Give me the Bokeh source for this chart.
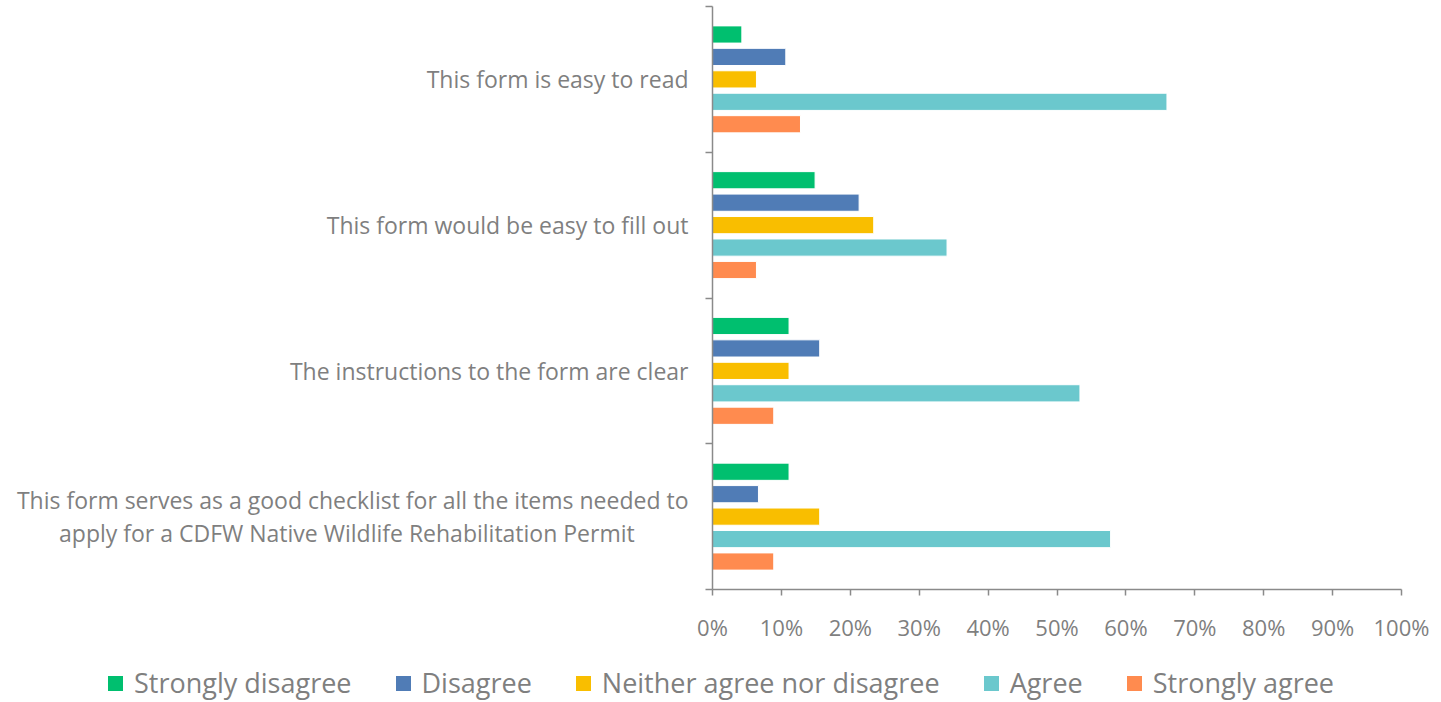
from bokeh.plotting import figure
from bokeh.models import FixedTicker, NumeralTickFormatter, Range1d, Div
from bokeh.layouts import column
from bokeh.embed import file_html
from bokeh.resources import INLINE

NB = "\u00a0"
questions = [
    "This form is easy to read",
    "This form would be easy to fill out",
    "The instructions to the form are clear",
    "This form serves as a good checklist for all the items needed to\napply for a CDFW Native Wildlife Rehabilitation Permit" + NB * 9,
]
series = ["Strongly disagree", "Disagree", "Neither agree nor disagree", "Agree", "Strongly agree"]
colors = ["#00bf6f", "#507cb6", "#f9be00", "#6bc8cd", "#ff8b4f"]

strongly_disagree = [0.0426, 0.1489, 0.1111, 0.1111]
disagree = [0.1064, 0.2128, 0.1556, 0.0667]
neither = [0.0638, 0.2340, 0.1111, 0.1556]
agree = [0.6596, 0.3404, 0.5333, 0.5778]
strongly_agree = [0.1277, 0.0638, 0.0889, 0.0889]
values = [strongly_disagree, disagree, neither, agree, strongly_agree]

x_ticks = [0, 0.1, 0.2, 0.3, 0.4, 0.5, 0.6, 0.7, 0.8, 0.9, 1.0]

n = len(questions)
centers = [n - i - 0.5 for i in range(n)]
pitch = 0.154
bar_h = 0.118

TEXT = "#7f7f7f"
AXIS = "#8a8a8a"
FONT = "Open Sans"

p = figure(frame_width=689, frame_height=583, output_backend="svg", toolbar_location=None,
           x_range=Range1d(0, 1), y_range=Range1d(0, n),
           min_border_left=712, min_border_right=32, min_border_top=6, min_border_bottom=0)
p.outline_line_color = None
p.xgrid.grid_line_color = None
p.ygrid.grid_line_color = None
p.background_fill_color = "white"

for j, (name, col, vals) in enumerate(zip(series, colors, values)):
    ys = [c + (2 - j) * pitch for c in centers]
    p.hbar(y=ys, right=vals, left=0, height=bar_h, fill_color=col,
           line_color="white", line_width=1, legend_label=name)
p.legend.visible = False

# x axis
p.xaxis.ticker = FixedTicker(ticks=x_ticks)
p.xaxis.formatter = NumeralTickFormatter(format="0%")
p.xaxis.axis_line_color = AXIS
p.xaxis.axis_line_width = 1.5
p.xaxis.major_tick_line_color = AXIS
p.xaxis.major_tick_line_width = 1.5
p.xaxis.major_tick_out = 6
p.xaxis.major_tick_in = 0
p.xaxis.minor_tick_line_color = None
p.xaxis.major_label_text_color = TEXT
p.xaxis.major_label_text_font = FONT
p.xaxis.major_label_text_font_size = "22px"
p.xaxis.major_label_standoff = 16

# y axis
p.yaxis.ticker = FixedTicker(ticks=centers, minor_ticks=list(range(n + 1)))
p.yaxis.major_label_overrides = {c: q for c, q in zip(centers, questions)}
p.yaxis.axis_line_color = AXIS
p.yaxis.axis_line_width = 1.5
p.yaxis.major_tick_line_color = None
p.yaxis.minor_tick_line_color = AXIS
p.yaxis.minor_tick_line_width = 1.5
p.yaxis.minor_tick_out = 7
p.yaxis.minor_tick_in = 0
p.yaxis.major_label_text_color = TEXT
p.yaxis.major_label_text_font = FONT
p.yaxis.major_label_text_font_size = "23px"
p.yaxis.major_label_text_line_height = 1.05
p.yaxis.major_label_standoff = 17

# legend row below the chart (built from the series names and colours)
parts = []
for name, col in zip(series, colors):
    parts.append(
        '<span style="display:inline-block;margin-right:44px;">'
        f'<span style="display:inline-block;width:15px;height:15px;background:{col};'
        'margin-right:11px;vertical-align:middle;position:relative;top:-2px;"></span>'
        f'{name}</span>'
    )
html = (f'<div style="font-family:\'{FONT}\';font-size:27px;color:{TEXT};white-space:nowrap;'
        'padding-left:103px;line-height:36px;margin-top:16px;">' + "".join(parts) + '</div>')
legend_div = Div(text=html, width=1433, height=56)

layout = column(p, legend_div, spacing=0)
open("out.html", "w").write(file_html(layout, INLINE))
